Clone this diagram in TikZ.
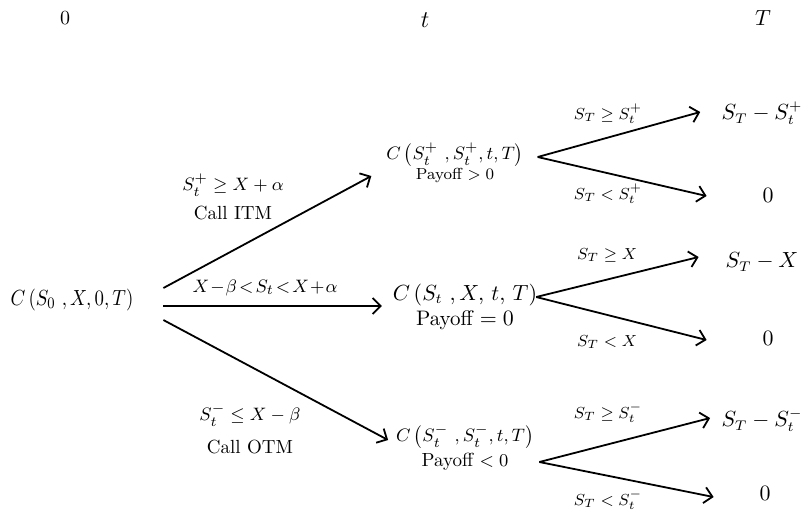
\documentclass[tikz,border=0pt]{standalone}
\usepackage{amsmath,amssymb}
\usetikzlibrary{positioning,arrows.meta}
\begin{document}
\begin{tikzpicture}[x=0.5pt, y=-0.5pt, >={Straight Barb[length=4pt,width=8pt]}]
    \tikzset{
        arr/.style={->, line width=0.9pt},
        big/.style={font=\fontsize{10.5}{12}\selectfont},
        small/.style={font=\fontsize{9.5}{11}\selectfont},
        tiny/.style={font=\fontsize{8}{10}\selectfont},
        lbl/.style={font=\fontsize{8.5}{10}\selectfont},
        term/.style={big, minimum width=40pt, inner sep=0pt},
    }
    \useasboundingbox (0,0) rectangle (801,516);
    % 时间轴
    \node[font=\fontsize{10}{12}\selectfont] (h0) at (65,18) {$0$};
    \node[font=\fontsize{13}{15}\selectfont] (ht) at (425,20) {$t$};
    \node[font=\fontsize{11}{13}\selectfont] (hT) at (763,18) {$T$};
    % 初始
    \node[font=\fontsize{11}{13}\selectfont] (root) at (72,300) {\scalebox{0.86}[1]{$C\,(S_0\ , X, 0, T)$}};
    % 时刻 t
    \node[small] (upC) at (455,155) {$C\left(S_t^+\ , S_t^+, t, T\right)$};
    \node[tiny] (upP) at (455,175) {Payoff $> 0$};
    \node[big] (midC) at (465,295) {$C\,(S_t\ , X,\, t,\, T)$};
    \node[big] (midP) at (465,320) {Payoff $= 0$};
    \node[small] (lowC) at (465,437) {$C\left(S_t^-\ , S_t^-, t, T\right)$};
    \node[small] (lowP) at (465,462) {Payoff $< 0$};
    % 时刻 T
    \node[term] (upA) at (762,113) {$S_T - S_t^+$};
    \node[term] (upB) at (768,195) {$0$};
    \node[term] (midA) at (762,262) {$S_T - X$};
    \node[term] (midB) at (768,338) {$0$};
    \node[term] (lowA) at (762,420) {$S_T - S_t^-$};
    \node[term] (lowB) at (765,493) {$0$};
    % 第一段
    \draw[arr] ([shift={(23,-12)}]root.east) -- ([shift={(-8,21)}]upC.west);
    \draw[arr] ([shift={(23,6)}]root.east) -- ([shift={(-4,11)}]midC.west);
    \draw[arr] ([shift={(23,20)}]root.east) -- ([shift={(-1,3)}]lowC.west);
    \node[small] (l1a) at (233,185) {$S_t^+ \geq X + \alpha$};
    \node[small] (l1b) at (233,213) {Call ITM};
    \node[small] (l2) at (265,288) {$X\!-\!\beta\!<\!S_t\!<\!X\!+\!\alpha$};
    \node[small] (l3a) at (250,415) {$S_t^- \leq X - \beta$};
    \node[small] (l3b) at (250,447) {Call OTM};
    % 第二段
    \draw[arr] ([shift={(7,2)}]upC.east) -- ([shift={(-21,-1)}]upA.west);
    \draw[arr] ([shift={(7,2)}]upC.east) -- ([shift={(-21,1)}]upB.west);
    \draw[arr] ([shift={(-8,2)}]midC.east) -- ([shift={(-23,-5)}]midA.west);
    \draw[arr] ([shift={(-8,2)}]midC.east) -- ([shift={(-21,2)}]midB.west);
    \draw[arr] ([shift={(24,0)}]lowP.east) -- ([shift={(-11,-2)}]lowA.west);
    \draw[arr] ([shift={(24,0)}]lowP.east) -- ([shift={(-11,4)}]lowB.west);
    \node[lbl] (u1) at (608,114) {$S_T \geq S_t^+$};
    \node[lbl] (u2) at (608,194) {$S_T < S_t^+$};
    \node[lbl] (m1) at (607,255) {$S_T \geq X$};
    \node[lbl] (m2) at (607,342) {$S_T < X$};
    \node[lbl] (d1) at (608,413) {$S_T \geq S_t^-$};
    \node[lbl] (d2) at (608,500) {$S_T < S_t^-$};
\end{tikzpicture}
\end{document}
